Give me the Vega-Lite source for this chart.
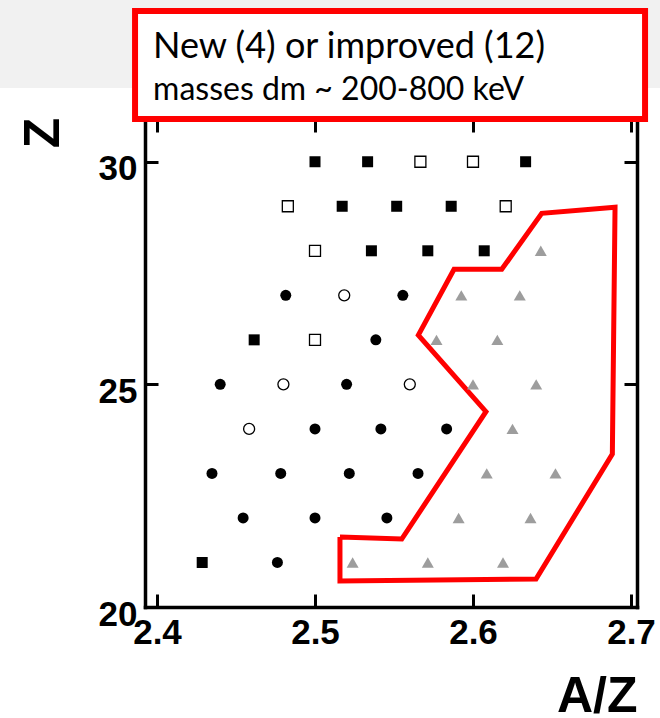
{
  "$schema": "https://vega.github.io/schema/vega-lite/v6.json",
  "width": 492,
  "height": 488,
  "autosize": {"type": "none"},
  "padding": {"left": 145, "top": 119, "right": 23, "bottom": 111},
  "background": "white",
  "config": {
    "view": {"stroke": null},
    "axis": {
      "domainColor": "black", "domainWidth": 3.5, "domainCap": "square",
      "tickColor": "black", "tickWidth": 3, "tickSize": -13,
      "grid": false,
      "labelFont": "Liberation Sans", "labelFontWeight": "bold", "labelFontSize": 35, "labelColor": "black",
      "titleFont": "Liberation Sans", "titleFontWeight": "bold", "titleFontSize": 50, "titleColor": "black"
    }
  },
  "datasets": {
    "nuclei": [
      {"z": 30, "az": 2.5, "kind": "filled square"},
      {"z": 30, "az": 2.5333, "kind": "filled square"},
      {"z": 30, "az": 2.5667, "kind": "open square"},
      {"z": 30, "az": 2.6, "kind": "open square"},
      {"z": 30, "az": 2.6333, "kind": "filled square"},
      {"z": 29, "az": 2.4828, "kind": "open square"},
      {"z": 29, "az": 2.5172, "kind": "filled square"},
      {"z": 29, "az": 2.5517, "kind": "filled square"},
      {"z": 29, "az": 2.5862, "kind": "filled square"},
      {"z": 29, "az": 2.6207, "kind": "open square"},
      {"z": 28, "az": 2.5, "kind": "open square"},
      {"z": 28, "az": 2.5357, "kind": "filled square"},
      {"z": 28, "az": 2.5714, "kind": "filled square"},
      {"z": 28, "az": 2.6071, "kind": "filled square"},
      {"z": 28, "az": 2.6429, "kind": "triangle"},
      {"z": 27, "az": 2.4815, "kind": "filled circle"},
      {"z": 27, "az": 2.5185, "kind": "open circle"},
      {"z": 27, "az": 2.5556, "kind": "filled circle"},
      {"z": 27, "az": 2.5926, "kind": "triangle"},
      {"z": 27, "az": 2.6296, "kind": "triangle"},
      {"z": 26, "az": 2.4615, "kind": "filled square"},
      {"z": 26, "az": 2.5, "kind": "open square"},
      {"z": 26, "az": 2.5385, "kind": "filled circle"},
      {"z": 26, "az": 2.5769, "kind": "triangle"},
      {"z": 26, "az": 2.6154, "kind": "triangle"},
      {"z": 25, "az": 2.44, "kind": "filled circle"},
      {"z": 25, "az": 2.48, "kind": "open circle"},
      {"z": 25, "az": 2.52, "kind": "filled circle"},
      {"z": 25, "az": 2.56, "kind": "open circle"},
      {"z": 25, "az": 2.6, "kind": "triangle"},
      {"z": 25, "az": 2.64, "kind": "triangle"},
      {"z": 24, "az": 2.4583, "kind": "open circle"},
      {"z": 24, "az": 2.5, "kind": "filled circle"},
      {"z": 24, "az": 2.5417, "kind": "filled circle"},
      {"z": 24, "az": 2.5833, "kind": "filled circle"},
      {"z": 24, "az": 2.625, "kind": "triangle"},
      {"z": 23, "az": 2.4348, "kind": "filled circle"},
      {"z": 23, "az": 2.4783, "kind": "filled circle"},
      {"z": 23, "az": 2.5217, "kind": "filled circle"},
      {"z": 23, "az": 2.5652, "kind": "filled circle"},
      {"z": 23, "az": 2.6087, "kind": "triangle"},
      {"z": 23, "az": 2.6522, "kind": "triangle"},
      {"z": 22, "az": 2.4545, "kind": "filled circle"},
      {"z": 22, "az": 2.5, "kind": "filled circle"},
      {"z": 22, "az": 2.5455, "kind": "filled circle"},
      {"z": 22, "az": 2.5909, "kind": "triangle"},
      {"z": 22, "az": 2.6364, "kind": "triangle"},
      {"z": 21, "az": 2.4286, "kind": "filled square"},
      {"z": 21, "az": 2.4762, "kind": "filled circle"},
      {"z": 21, "az": 2.5238, "kind": "triangle"},
      {"z": 21, "az": 2.5714, "kind": "triangle"},
      {"z": 21, "az": 2.619, "kind": "triangle"}
    ],
    "region": [
      {"i": 1, "az": 2.5158, "z": 21.572},
      {"i": 2, "az": 2.5158, "z": 20.584},
      {"i": 3, "az": 2.6399, "z": 20.629},
      {"i": 4, "az": 2.6882, "z": 23.436},
      {"i": 5, "az": 2.6899, "z": 28.976},
      {"i": 6, "az": 2.6435, "z": 28.841},
      {"i": 7, "az": 2.6182, "z": 27.584},
      {"i": 8, "az": 2.588, "z": 27.584},
      {"i": 9, "az": 2.5654, "z": 26.108},
      {"i": 10, "az": 2.6082, "z": 24.386},
      {"i": 11, "az": 2.5549, "z": 21.527},
      {"i": 12, "az": 2.5158, "z": 21.572}
    ],
    "note": [
      {"line1": "New (4) or improved (12)", "line2": "masses dm ~ 200-800 keV"}
    ]
  },
  "resolve": {"axis": {"x": "independent", "y": "independent"}},
  "layer": [
    {
      "data": {"name": "note"},
      "mark": {"type": "rect", "fill": "#f1f1f1"},
      "encoding": {
        "x": {"datum": 2.3006, "type": "quantitative", "scale": {"domain": [2.3924, 2.7038], "nice": false, "zero": false}, "axis": null},
        "x2": {"datum": 2.7184},
        "y": {"datum": 33.64, "type": "quantitative", "scale": {"domain": [20, 30.96], "nice": false, "zero": false}, "axis": null},
        "y2": {"datum": 31.655}
      }
    },
    {
      "data": {"name": "region"},
      "mark": {"type": "line", "color": "#ff0000", "strokeWidth": 5, "strokeJoin": "miter"},
      "encoding": {
        "x": {"field": "az", "type": "quantitative", "scale": {"domain": [2.3924, 2.7038], "nice": false, "zero": false},
              "axis": {"orient": "top", "values": [2.4, 2.5, 2.6, 2.7], "labels": false, "title": null}},
        "y": {"field": "z", "type": "quantitative", "scale": {"domain": [20, 30.96], "nice": false, "zero": false},
              "axis": {"orient": "right", "values": [20, 25, 30], "labels": false, "title": null}},
        "order": {"field": "i", "type": "quantitative"}
      }
    },
    {
      "data": {"name": "nuclei"},
      "transform": [{"filter": "datum.kind != 'triangle'"}],
      "mark": {"type": "point", "filled": true, "size": 121, "strokeWidth": 1.3, "opacity": 1},
      "encoding": {
        "x": {"field": "az", "type": "quantitative", "scale": {"domain": [2.3924, 2.7038], "nice": false, "zero": false},
              "axis": {"orient": "bottom", "values": [2.4, 2.5, 2.6, 2.7], "format": ".1f", "labelPadding": 21, "title": "A/Z",
                       "titleX": 492, "titleY": 104, "titleAlign": "right", "titleBaseline": "alphabetic", "titleAnchor": null}},
        "y": {"field": "z", "type": "quantitative", "scale": {"domain": [20, 30.96], "nice": false, "zero": false},
              "axis": {"orient": "left", "values": [20, 25, 30], "format": "d", "labelPadding": 21, "labelOffset": 7, "title": "Z",
                       "titleX": -87, "titleY": 13.5, "titleAngle": -90, "titleAlign": "center", "titleBaseline": "alphabetic", "titleAnchor": null}},
        "shape": {"field": "kind", "type": "nominal", "scale": {"domain": ["filled square", "open square", "filled circle", "open circle"], "range": ["square", "square", "circle", "circle"]}, "legend": null},
        "fill": {"field": "kind", "type": "nominal", "scale": {"domain": ["filled square", "open square", "filled circle", "open circle"], "range": ["black", "white", "black", "white"]}, "legend": null},
        "stroke": {"field": "kind", "type": "nominal", "scale": {"domain": ["filled square", "open square", "filled circle", "open circle"], "range": ["transparent", "black", "transparent", "black"]}, "legend": null}
      }
    },
    {
      "data": {"name": "nuclei"},
      "transform": [{"filter": "datum.kind == 'triangle'"}],
      "mark": {"type": "point", "filled": true, "shape": "triangle-up", "size": 144, "color": "#9d9d9d", "opacity": 1},
      "encoding": {
        "x": {"field": "az", "type": "quantitative", "scale": {"domain": [2.3924, 2.7038], "nice": false, "zero": false}, "axis": null},
        "y": {"field": "z", "type": "quantitative", "scale": {"domain": [20, 30.96], "nice": false, "zero": false}, "axis": null}
      }
    },
    {
      "data": {"name": "note"},
      "mark": {"type": "rect", "fill": "white", "stroke": "#ff0000", "strokeWidth": 6},
      "encoding": {
        "x": {"datum": 2.3861, "type": "quantitative", "scale": {"domain": [2.3924, 2.7038], "nice": false, "zero": false}, "axis": null},
        "x2": {"datum": 2.7089},
        "y": {"datum": 33.384, "type": "quantitative", "scale": {"domain": [20, 30.96], "nice": false, "zero": false}, "axis": null},
        "y2": {"datum": 30.959}
      }
    },
    {
      "data": {"name": "note"},
      "mark": {"type": "text", "align": "left", "baseline": "alphabetic", "font": "Lato", "fontSize": 36, "color": "black"},
      "encoding": {
        "x": {"datum": 2.3975, "type": "quantitative", "scale": {"domain": [2.3924, 2.7038], "nice": false, "zero": false}, "axis": null},
        "y": {"datum": 32.329, "type": "quantitative", "scale": {"domain": [20, 30.96], "nice": false, "zero": false}, "axis": null},
        "text": {"field": "line1"}
      }
    },
    {
      "data": {"name": "note"},
      "mark": {"type": "text", "align": "left", "baseline": "alphabetic", "font": "Lato", "fontSize": 32, "color": "black"},
      "encoding": {
        "x": {"datum": 2.3975, "type": "quantitative", "scale": {"domain": [2.3924, 2.7038], "nice": false, "zero": false}, "axis": null},
        "y": {"datum": 31.386, "type": "quantitative", "scale": {"domain": [20, 30.96], "nice": false, "zero": false}, "axis": null},
        "text": {"field": "line2"}
      }
    }
  ]
}
